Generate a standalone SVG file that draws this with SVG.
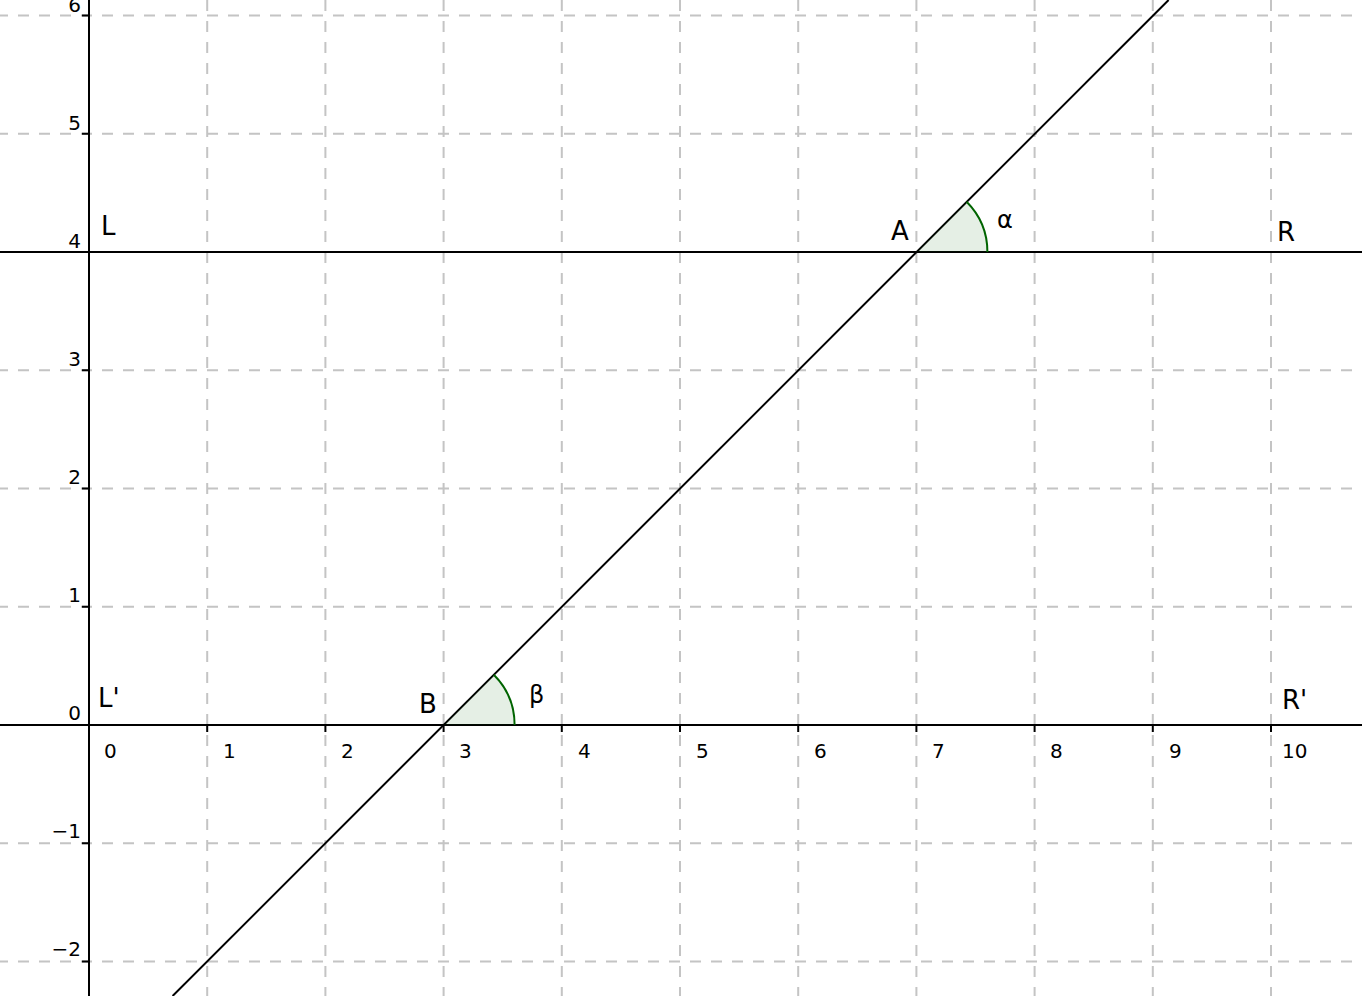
<svg xmlns="http://www.w3.org/2000/svg" width="1362" height="996" viewBox="0 0 1362 996">
<style>
.grid{stroke:#c4c4c4;stroke-width:2;stroke-dasharray:11 10;fill:none}
.axis{stroke:#000;stroke-width:2;fill:none}
.tick{stroke:#000;stroke-width:2}
.ln{stroke:#000;stroke-width:2;fill:none}
.num{font-family:"DejaVu Sans",sans-serif;font-size:20px;fill:#000}
.lbl{font-family:"DejaVu Sans",sans-serif;font-size:26px;fill:#000}
.greek{font-family:"DejaVu Sans",sans-serif;font-size:24px;fill:#000}
.afill{fill:#006400;fill-opacity:0.1;stroke:none}
.arc{stroke:#006400;stroke-width:2;fill:none}
</style>
<rect width="1362" height="996" fill="#fff"/>
<g id="grid">
<path class="grid" d="M207.2 0V996M325.4 0V996M443.6 0V996M561.8 0V996M680 0V996M798.2 0V996M916.4 0V996M1034.6 0V996M1152.8 0V996M1271 0V996"/>
<path class="grid" style="stroke-dashoffset:3" d="M0 15.5H1362M0 133.75H1362M0 370.25H1362M0 488.5H1362M0 606.75H1362M0 843.25H1362M0 961.5H1362"/>
</g>
<g id="axes">
<path class="axis" d="M0 725H1362M89 0V996"/>
<path class="tick" d="M207.2 725v7M325.4 725v7M443.6 725v7M561.8 725v7M680 725v7M798.2 725v7M916.4 725v7M1034.6 725v7M1152.8 725v7M1271 725v7"/>
<path class="tick" d="M82 15.5h7M82 133.75h7M82 252h7M82 370.25h7M82 488.5h7M82 606.75h7M82 843.25h7M82 961.5h7"/>
<g class="num">
<text x="104" y="758">0</text>
<text x="223" y="758">1</text>
<text x="341" y="758">2</text>
<text x="459" y="758">3</text>
<text x="578" y="758">4</text>
<text x="696" y="758">5</text>
<text x="814" y="758">6</text>
<text x="932" y="758">7</text>
<text x="1050" y="758">8</text>
<text x="1169" y="758">9</text>
<text x="1282" y="758">10</text>
</g>
<g class="num" text-anchor="end">
<text x="81" y="12">6</text>
<text x="81" y="130">5</text>
<text x="81" y="248">4</text>
<text x="81" y="366">3</text>
<text x="81" y="484">2</text>
<text x="81" y="602">1</text>
<text x="81" y="720">0</text>
<text x="81" y="838">−1</text>
<text x="81" y="956">−2</text>
</g>
</g>
<g id="connectors">
<path id="line-LR" class="ln" d="M0 252H1362"/>
<path id="line-LpRp" class="ln" d="M89 725H1362"/>
<path id="line-AB" class="ln" d="M172.6 996L1168.6 0"/>
</g>
<g id="angle-alpha">
<path class="afill" d="M916.4 252L987.4 252A71 71 0 0 0 966.6 201.8Z"/>
<path class="arc" d="M987.4 252A71 71 0 0 0 966.6 201.8"/>
<text class="greek" x="997" y="228">α</text>
</g>
<g id="angle-beta">
<path class="afill" d="M443.6 725L514.6 725A71 71 0 0 0 493.8 674.8Z"/>
<path class="arc" d="M514.6 725A71 71 0 0 0 493.8 674.8"/>
<text class="greek" x="529" y="703">β</text>
</g>
<g id="point-A"><text class="lbl" x="891" y="240">A</text></g>
<g id="point-B"><text class="lbl" x="419" y="713">B</text></g>
<g id="point-L"><text class="lbl" x="101" y="235">L</text></g>
<g id="point-R"><text class="lbl" x="1277" y="241">R</text></g>
<g id="point-Lp"><text class="lbl" x="98" y="707">L'</text></g>
<g id="point-Rp"><text class="lbl" x="1282" y="709">R'</text></g>
</svg>
